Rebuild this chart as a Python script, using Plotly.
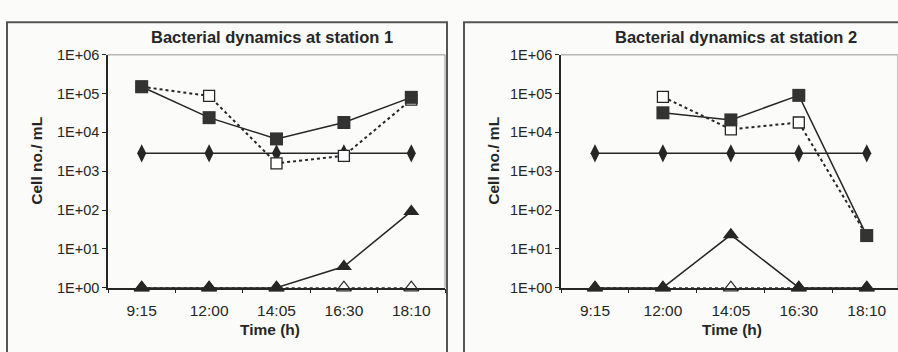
import plotly.graph_objects as go

# ---------------- data ----------------
times = ["9:15", "12:00", "14:05", "16:30", "18:10"]
ytick_vals = [1, 10, 100, 1000, 10000, 100000, 1000000]
ytick_text = ["1E+00", "1E+01", "1E+02", "1E+03", "1E+04", "1E+05", "1E+06"]

# Station 1
s1_filled_sq = [150000, 24000, 6800, 18000, 80000]
s1_open_sq = [150000, 87000, 1600, 2500, 70000]
s1_diamond = [2900, 2900, 2900, 2900, 2900]
s1_filled_tri = [1, 1, 1, 3.5, 92]
s1_open_tri = [1, 1, 1, 1, 1]

# Station 2
s2_filled_sq = [None, 32000, 21000, 90000, 22]
s2_open_sq = [None, 82000, 12000, 18000, 22]
s2_diamond = [2900, 2900, 2900, 2900, 2900]
s2_filled_tri = [1, 1, 23, 1, 1]
s2_open_tri = [1, 1, 1, 1, 1]

titles = ["Bacterial dynamics at station 1", "Bacterial dynamics at station 2"]

INK = "#262626"
FONT = "Liberation Sans, Arial, sans-serif"
W, H = 898, 352

fig = go.Figure()


def add_station(xa, ya, filled_sq, open_sq, diamond, filled_tri, open_tri):
    common = dict(x=times, xaxis=xa, yaxis=ya, cliponaxis=False,
                  showlegend=False, mode="lines+markers", connectgaps=False)
    fig.add_trace(go.Scatter(y=open_tri, **common,
                             line=dict(color=INK, width=1.5, dash="dot"),
                             marker=dict(symbol="triangle-up", size=13, color="white",
                                         line=dict(color=INK, width=1.2))))
    fig.add_trace(go.Scatter(y=filled_tri, **common,
                             line=dict(color=INK, width=1.5),
                             marker=dict(symbol="triangle-up", size=14, color=INK,
                                         line=dict(width=0))))
    fig.add_trace(go.Scatter(y=diamond, **common,
                             line=dict(color=INK, width=1.5),
                             marker=dict(symbol="diamond-tall", size=13, color=INK,
                                         line=dict(width=0))))
    fig.add_trace(go.Scatter(y=open_sq, **common,
                             line=dict(color=INK, width=2, dash="dot"),
                             marker=dict(symbol="square", size=11, color="white",
                                         line=dict(color=INK, width=1.3))))
    fig.add_trace(go.Scatter(y=filled_sq, **common,
                             line=dict(color=INK, width=1.5),
                             marker=dict(symbol="square", size=13, color="#333333",
                                         line=dict(width=0))))


add_station("x", "y", s1_filled_sq, s1_open_sq, s1_diamond, s1_filled_tri, s1_open_tri)
add_station("x2", "y2", s2_filled_sq, s2_open_sq, s2_diamond, s2_filled_tri, s2_open_tri)

ydom = [(H - 293) / H, (H - 49) / H]
xdom1 = [108 / W, 445 / W]
xdom2 = [561 / W, 1.0]

xcommon = dict(type="category", categoryorder="array", categoryarray=times,
               showline=True, linecolor=INK, linewidth=1.5, ticks="outside",
               tickson="boundaries", ticklen=4, tickcolor=INK, showgrid=False,
               zeroline=False, ticklabelstandoff=8,
               tickfont=dict(family=FONT, size=15.5, color=INK))
ycommon = dict(type="log", range=[0, 6], tickvals=ytick_vals, ticktext=ytick_text,
               showline=True, linecolor=INK, linewidth=1.5, ticks="outside",
               ticklen=4, tickcolor=INK, showgrid=False, zeroline=False,
               tickfont=dict(family=FONT, size=14.5, color=INK))

fig.update_layout(
    width=W, height=H,
    margin=dict(l=0, r=0, t=0, b=0),
    paper_bgcolor="#fbfbf9", plot_bgcolor="rgba(0,0,0,0)",
    xaxis=dict(domain=xdom1, range=[-0.5, 4.5], anchor="y", **xcommon),
    yaxis=dict(domain=ydom, anchor="x", **ycommon),
    xaxis2=dict(domain=xdom2, range=[-0.5, 4.46], anchor="y2", **xcommon),
    yaxis2=dict(domain=ydom, anchor="x2", **ycommon),
)

shapes = []
# panel frames
for x0, x1 in [(7, 447), (464, 905)]:
    shapes.append(dict(type="rect", xref="paper", yref="paper",
                       x0=x0 / W, x1=x1 / W, y0=-0.05, y1=(H - 15) / H,
                       line=dict(color="#555555", width=2), layer="below"))
# light plot-area borders (top & right)
for xr, yr in [("x domain", "y domain"), ("x2 domain", "y2 domain")]:
    shapes.append(dict(type="line", xref=xr, yref=yr, x0=0, x1=1, y0=1, y1=1,
                       line=dict(color="#b5b5b5", width=1.5)))
    shapes.append(dict(type="line", xref=xr, yref=yr, x0=1, x1=1, y0=0, y1=1,
                       line=dict(color="#b5b5b5", width=1.5)))
fig.update_layout(shapes=shapes)

annotations = []
for cx, t in [(272, titles[0]), (736, titles[1])]:
    annotations.append(dict(text="<b>%s</b>" % t, x=cx / W, y=(H - 30) / H,
                            xref="paper", yref="paper", showarrow=False,
                            xanchor="center", yanchor="middle",
                            font=dict(family=FONT, size=16.5, color=INK)))
for cx in [270, 732]:
    annotations.append(dict(text="<b>Time (h)</b>", x=cx / W, y=(H - 337) / H,
                            xref="paper", yref="paper", showarrow=False,
                            xanchor="center", yanchor="middle",
                            font=dict(family=FONT, size=15.5, color=INK)))
for cx in [37, 494]:
    annotations.append(dict(text="<b>Cell no./ mL</b>", x=cx / W, y=(H - 160) / H,
                            xref="paper", yref="paper", showarrow=False,
                            textangle=-90, xanchor="center", yanchor="middle",
                            font=dict(family=FONT, size=15.5, color=INK)))
fig.update_layout(annotations=annotations)

fig.write_html("out.html")
